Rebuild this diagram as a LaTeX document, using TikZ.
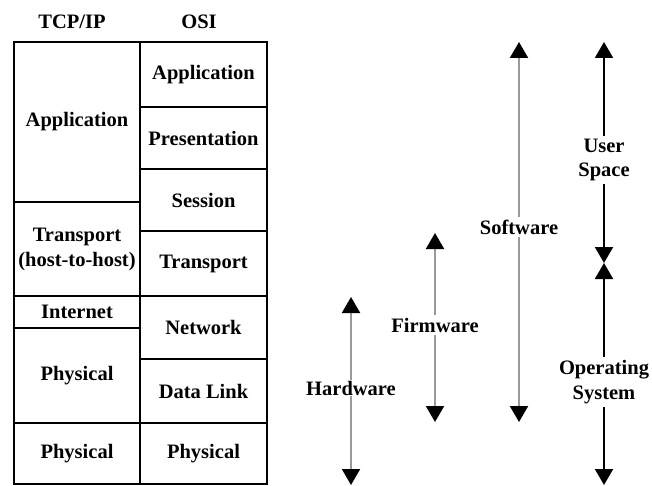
\documentclass[tikz,border=0pt]{standalone}
\usepackage{fontspec}
\setmainfont{Liberation Serif}
\usetikzlibrary{arrows.meta}

\begin{document}
\begin{tikzpicture}[x=1pt,y=-1pt,>={Triangle[width=18pt,length=16pt,color=black]},
reteg/.style={rectangle,draw=black,line width=1.6pt,inner sep=0pt,align=center,
font=\bfseries\fontsize{20.5}{25}\selectfont},
felirat/.style={fill=white,inner sep=3pt,align=center,font=\bfseries\fontsize{20.5}{24.5}\selectfont},
nyil/.style={<->,line width=2pt,draw=black!40}]

\useasboundingbox (0,0) rectangle (652,486);

\pgfmathsetmacro{\tcpx}{77}
\pgfmathsetmacro{\osix}{203.5}

\node[felirat](tcp) at (72,22){TCP/IP};
\node[felirat](osi) at (199,22){OSI};

% TCP/IP oszlop
\node[reteg,minimum width=126pt,minimum height=160pt](tcp-app) at (\tcpx,122){Application};
\node[reteg,minimum width=126pt,minimum height=94pt](tcp-trans) at (\tcpx,249){Transport\\(host-to-host)};
\node[reteg,minimum width=126pt,minimum height=32pt](tcp-inet) at (\tcpx,312){Internet};
\node[reteg,minimum width=126pt,minimum height=95pt](tcp-phys) at (\tcpx,375.5){Physical};
\node[reteg,minimum width=126pt,minimum height=61pt](tcp-phys2) at (\tcpx,453.5){Physical};

% OSI oszlop
\node[reteg,minimum width=127pt,minimum height=65pt](osi-app) at (\osix,74.5){Application};
\node[reteg,minimum width=127pt,minimum height=62pt](osi-pres) at (\osix,138){Presentation};
\node[reteg,minimum width=127pt,minimum height=62pt](osi-sess) at (\osix,200){Session};
\node[reteg,minimum width=127pt,minimum height=65pt](osi-trans) at (\osix,263.5){Transport};
\node[reteg,minimum width=127pt,minimum height=63pt](osi-net) at (\osix,327.5){Network};
\node[reteg,minimum width=127pt,minimum height=64pt](osi-dl) at (\osix,391){Data Link};
\node[reteg,minimum width=127pt,minimum height=61pt](osi-phys) at (\osix,453.5){Physical};

\coordinate(hw-top) at (351,297);
\coordinate(hw-bot) at (351,485);
\coordinate(fw-top) at (435,233);
\coordinate(fw-bot) at (435,422);
\coordinate(sw-top) at (519,42);
\coordinate(sw-bot) at (519,422);
\coordinate(us-top) at (604,42);
\coordinate(mid) at (604,263);
\coordinate(os-bot) at (604,485);

\begin{scope}
\draw[nyil] (hw-top)--(hw-bot);
\draw[nyil] (fw-top)--(fw-bot);
\draw[nyil] (sw-top)--(sw-bot);
\draw[nyil,draw=black] (us-top)--(mid);
\draw[nyil,draw=black] (mid)--(os-bot);
\end{scope}

\node[felirat,inner sep=1pt](hw) at (351,388){Hardware};
\node[felirat](fw) at (435,325){Firmware};
\node[felirat](sw) at (519,227){Software};
\node[felirat](us) at (604,160){User\\Space};
\node[felirat](os) at (604,382){Operating\\System};
\end{tikzpicture}
\end{document}
